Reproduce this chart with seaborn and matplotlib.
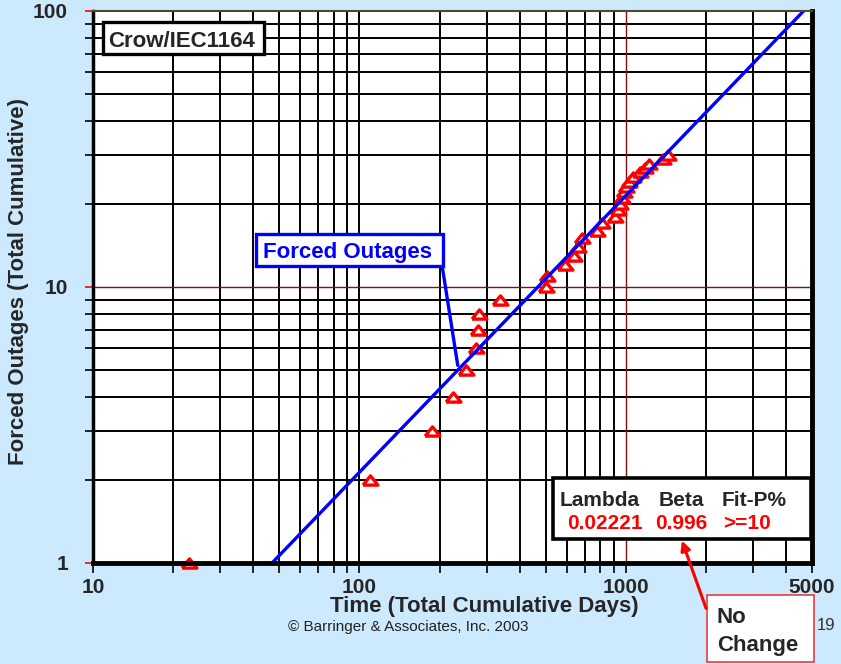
import matplotlib
matplotlib.use('Agg')
import matplotlib.pyplot as plt
import seaborn as sns
import pandas as pd
from matplotlib.patches import Rectangle
from matplotlib.ticker import LogLocator, NullFormatter, FixedLocator, FixedFormatter

# 累计天数 / 累计强迫停运次数
days = [23, 110, 188, 224, 251, 275, 278, 282, 337, 500, 508, 591, 639, 661, 685,
        780, 814, 911, 935, 951, 967, 985, 1002, 1028, 1064, 1130, 1181, 1222, 1380, 1440]
outages = [1, 2, 3, 4, 5, 6, 7, 8, 9, 10, 11, 12, 13, 14, 15,
           16, 17, 18, 19, 20, 21, 22, 23, 24, 25, 26, 27, 28, 29, 30]

# Crow/AMSAA 拟合线的两个端点
fit_days = [47, 4650]
fit_outages = [1, 100]

x_ticks = [10, 100, 1000, 5000]
x_tick_labels = ['10', '100', '1000', '5000']
y_ticks = [1, 10, 100]
y_tick_labels = ['1', '10', '100']

header = ['Lambda', 'Beta', 'Fit-P%']
values = ['0.02221', '0.996', '>=10']

W, H = 841, 664
BG = '#CCE9FD'

sns.set_style('white')
plt.rcParams['font.family'] = ['Liberation Sans', 'DejaVu Sans']
plt.rcParams['font.weight'] = 'bold'


def px(x, y):
    """像素坐标 -> figure 坐标"""
    return (x / W, 1 - y / H)


fig = plt.figure(figsize=(W / 100, H / 100), dpi=100, facecolor=BG)
ax = fig.add_axes([93 / W, 1 - 563 / H, (812 - 93) / W, (563 - 11) / H])
ax.set_facecolor('white')
ax.set_xscale('log')
ax.set_yscale('log')
ax.set_xlim(10, 5000)
ax.set_ylim(1, 100)

# 网格
ax.xaxis.set_minor_locator(LogLocator(base=10, subs=range(2, 10)))
ax.yaxis.set_minor_locator(LogLocator(base=10, subs=range(2, 10)))
ax.xaxis.set_minor_formatter(NullFormatter())
ax.yaxis.set_minor_formatter(NullFormatter())
ax.grid(which='minor', color='black', lw=1.4, zorder=1)
ax.grid(which='major', visible=False)
ax.axvline(100, color='black', lw=1.4, zorder=1)
ax.axvline(1000, color='#7a1010', lw=1.0, zorder=1)
ax.axhline(10, color='#7a1010', lw=1.0, zorder=1)

# 数据点与拟合线
df = pd.DataFrame({'days': days, 'outages': outages})
fit = pd.DataFrame({'days': fit_days, 'outages': fit_outages})
tri = [(-1.0, -0.62), (1.0, -0.62), (0.0, 0.62), (-1.0, -0.62)]
sns.scatterplot(data=df, x='days', y='outages', ax=ax, marker=tri, s=115,
                facecolor='white', edgecolor='red', linewidth=2.4, zorder=3, clip_on=False)
sns.lineplot(data=fit, x='days', y='outages', ax=ax, color='#0000FF', lw=2.4, zorder=4)

ax.xaxis.set_major_locator(FixedLocator(x_ticks))
ax.xaxis.set_major_formatter(FixedFormatter(x_tick_labels))
ax.yaxis.set_major_locator(FixedLocator(y_ticks))
ax.yaxis.set_major_formatter(FixedFormatter(y_tick_labels))
ax.tick_params(axis='x', which='both', direction='out', length=7, width=1.2,
               color='black', labelsize=15, pad=4, bottom=True)
ax.tick_params(axis='y', which='both', direction='out', length=6, width=1.2,
               color='black', labelsize=15, pad=12, left=True)
ax.tick_params(axis='y', which='major', color='red')
ax.set_xlabel('')
ax.set_ylabel('')

for side, lw, col in [('left', 2.5, 'black'), ('bottom', 3.5, 'black'),
                      ('right', 3.5, 'black'), ('top', 1.5, '#4a4a30')]:
    ax.spines[side].set_linewidth(lw)
    ax.spines[side].set_color(col)
    ax.spines[side].set_zorder(5)

# 轴标签
fig.text(*px(19, 282), 'Forced Outages (Total Cumulative)', rotation=90,
         ha='center', va='center', fontsize=16)
fig.text(*px(484, 612), 'Time (Total Cumulative Days)', ha='center',
         va='baseline', fontsize=16)
fig.text(*px(288, 631), '\u00a9 Barringer & Associates, Inc. 2003', ha='left',
         va='baseline', fontsize=11, fontweight='normal', color='#222222')
fig.text(*px(817, 630), '19', ha='left', va='baseline', fontsize=12,
         fontweight='normal', color='#333333')


def box(x0, y0, x1, y1, ec, lw):
    r = Rectangle(px(x0, y1), (x1 - x0) / W, (y1 - y0) / H, transform=fig.transFigure,
                  facecolor='white', edgecolor=ec, lw=lw, zorder=6)
    fig.patches.append(r)


# Crow/IEC1164 标签
box(103, 22, 264, 54, 'black', 2.4)
fig.text(*px(108, 47), 'Crow/IEC1164', ha='left', va='baseline', fontsize=16, zorder=7)

# Forced Outages 标签与引线
ax.annotate('', xy=(234, 5.2), xycoords='data', xytext=px(442, 265),
            textcoords='figure fraction',
            arrowprops=dict(arrowstyle='-', color='#0000FF', lw=2.4,
                            shrinkA=0, shrinkB=0), zorder=6)
box(256, 234, 443, 266, '#0000FF', 2.4)
fig.text(*px(263, 258), 'Forced Outages', ha='left', va='baseline', fontsize=16,
         color='#0000FF', zorder=7)

# 参数框
box(553, 478, 811, 539, 'black', 2.6)
for t, x in zip(header, [560, 659, 722]):
    fig.text(*px(x, 506), t, ha='left', va='baseline', fontsize=15, zorder=7)
for t, x in zip(values, [567, 655, 723]):
    fig.text(*px(x, 529), t, ha='left', va='baseline', fontsize=15,
             color='#FF0000', zorder=7)

# No Change 注释
box(707, 595, 814, 662, '#E04040', 1.2)
fig.text(*px(717, 623), 'No', ha='left', va='baseline', fontsize=16, zorder=7)
fig.text(*px(717, 651), 'Change', ha='left', va='baseline', fontsize=16, zorder=7)
fig.patches.append(matplotlib.patches.FancyArrowPatch(
    px(707, 611), px(681, 538), transform=fig.transFigure, arrowstyle='-|>',
    mutation_scale=14, color='#FF0000', lw=2.2, zorder=8))

fig.savefig('out.png', dpi=100, facecolor=BG)
